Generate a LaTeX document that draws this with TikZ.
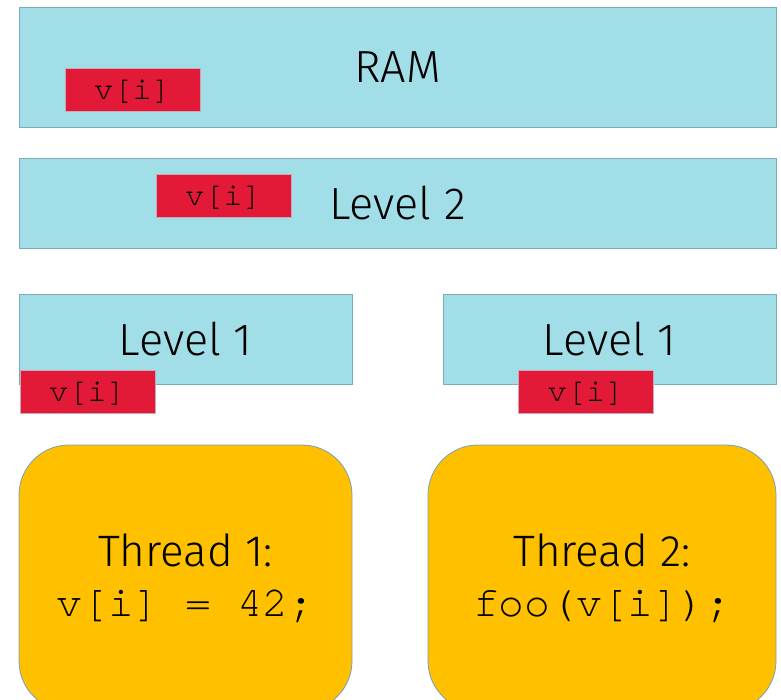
\documentclass[tikz,border=0pt]{standalone}
\usepackage{fontspec}
\setmainfont{Fira Sans}[UprightFont=* Light]
\setmonofont{TeX Gyre Cursor}
\usetikzlibrary{calc}
\definecolor{cacheblue}{RGB}{162,222,232}
\definecolor{cacheedge}{RGB}{122,172,188}
\definecolor{linered}{RGB}{227,25,56}
\definecolor{lineedge}{RGB}{205,165,185}
\definecolor{threadgold}{RGB}{255,192,0}
\definecolor{threadedge}{RGB}{118,160,192}
\tikzstyle{cache}=[rectangle,fill=cacheblue,draw=cacheedge,line width=0.8pt,inner sep=0pt,font=\fontsize{45}{45}\selectfont]
\tikzstyle{cacheline}=[rectangle,fill=linered,draw=lineedge,line width=0.6pt,minimum width=135pt,minimum height=43pt,inner sep=0pt,text depth=0pt,font=\fontsize{32}{32}\ttfamily]
\tikzstyle{thread}=[rectangle,rounded corners=50pt,fill=threadgold,draw=threadedge,line width=0.8pt,minimum height=266pt,inner sep=0pt,align=center,font=\fontsize{44}{50}\selectfont]

\begin{document}
\begin{tikzpicture}[x=1pt,y=-1pt]

   \clip (0,0) rectangle (781,699);
   \fill[white] (0,0) rectangle (781,699);

    % memory levels
    \node[cache,minimum width=757pt,minimum height=120pt] (ram) at (397.5,67) {RAM};
    \node[cache,minimum width=757pt,minimum height=90pt] (ltwo) at (397.5,203) {Level 2};
    \foreach \pos/ \name in {{(185.5,339)/lonea},{(609.5,339)/loneb}}
        \node[cache,minimum width=333pt,minimum height=90pt] (\name) at \pos {Level 1};

    % copies of the value
    \foreach \pos/ \name in {{(132.5,89.5)/vram},{(223.5,195.5)/vltwo},{(87.5,392)/vlonea},{(586,392)/vloneb}}
        \node[cacheline] (\name) at \pos {v[i]};

    % the two threads
    \node[thread,minimum width=333pt] (tone) at (185.5,578) {Thread 1:\\{\fontsize{43}{50}\ttfamily v[i] = 42;}};
    \node[thread,minimum width=348pt] (ttwo) at (602,578) {Thread 2:\\{\fontsize{43}{50}\ttfamily foo(v[i]);}};

\end{tikzpicture}
\end{document}
